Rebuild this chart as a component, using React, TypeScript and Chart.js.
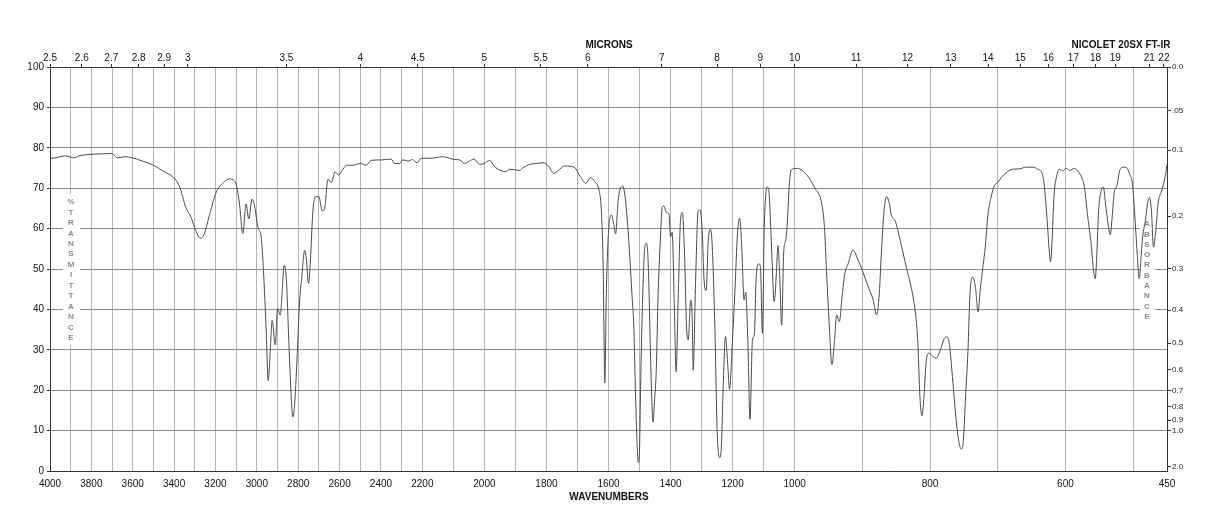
import React, { useEffect, useRef } from 'react';
import { Chart, LinearScale, registerables } from 'chart.js';

// ---------- data ----------
const WAVENUMBERS = [
  4000, 3975, 3925, 3900, 3885, 3860, 3800, 3745, 3705, 3690, 3675, 3640, 3600, 3553, 3500, 3455, 3402, 3375,
  3343, 3318, 3294, 3273, 3254, 3230, 3197, 3157, 3133, 3108, 3100, 3084, 3068, 3052, 3039, 3023, 3011, 2995,
  2979, 2968, 2955, 2945, 2935, 2926, 2911, 2900, 2887, 2877, 2869, 2858, 2845, 2834, 2826, 2818, 2806, 2793,
  2782, 2769, 2761, 2750, 2742, 2729, 2716, 2700, 2684, 2673, 2656, 2640, 2622, 2605, 2584, 2565, 2535, 2500,
  2471, 2447, 2398, 2350, 2334, 2310, 2294, 2269, 2248, 2226, 2205, 2176, 2133, 2112, 2096, 2080, 2063, 2049,
  2033, 2015, 2001, 1983, 1969, 1956, 1932, 1918, 1886, 1875, 1854, 1832, 1811, 1794, 1776, 1757, 1741, 1709,
  1692, 1673, 1658, 1644, 1630, 1623, 1617, 1612, 1607, 1601, 1591, 1583, 1577, 1569, 1555, 1545, 1534, 1524,
  1518, 1513, 1508, 1504, 1500, 1496, 1491, 1487, 1483, 1478, 1474, 1470, 1465, 1460, 1456, 1452, 1446, 1440,
  1432, 1427, 1422, 1413, 1405, 1400, 1395, 1388, 1382, 1375, 1368, 1362, 1355, 1348, 1343, 1335, 1330, 1327,
  1319, 1311, 1305, 1298, 1292, 1285, 1279, 1272, 1266, 1257, 1250, 1242, 1237, 1230, 1223, 1216, 1210, 1201,
  1192, 1185, 1177, 1171, 1163, 1158, 1151, 1144, 1136, 1130, 1124, 1115, 1110, 1104, 1098, 1088, 1083, 1075,
  1066, 1059, 1054, 1048, 1042, 1035, 1029, 1024, 1016, 1008, 996, 989, 979, 969, 961, 956, 953, 949,
  945, 941, 938, 934, 930, 926, 921, 914, 906, 899, 892, 884, 879, 875, 872, 868, 864, 860,
  857, 852, 844, 835, 826, 821, 818, 815, 812, 809, 806, 802, 796, 791, 785, 779, 775, 771,
  767, 762, 758, 754, 751, 748, 744, 741, 737, 733, 729, 726, 722, 718, 715, 710, 705, 700,
  695, 688, 678, 668, 658, 648, 641, 634, 631, 627, 624, 622, 620, 617, 613, 609, 604, 599,
  594, 587, 582, 577, 572, 567, 562, 559, 556, 554, 551, 547, 544, 541, 537, 534, 531, 528,
  524, 520, 515, 510, 505, 501, 498, 494, 491, 488, 486, 482, 478, 476, 473, 470, 467, 463,
  458, 453, 450,
];

const TRANSMITTANCE = [
  77.4, 77.5, 78.0, 77.7, 77.5, 78.0, 78.4, 78.5, 78.6, 78.2, 77.5, 77.8, 77.5, 76.7, 75.7, 74.3, 72.6, 70.6,
  65.2, 62.8, 59.3, 57.6, 58.7, 63.2, 68.9, 71.6, 72.3, 71.8, 71.0, 66.1, 58.8, 66.1, 62.4, 67.3, 65.6, 60.3,
  57.9, 49.6, 34.9, 22.4, 30.0, 37.3, 31.2, 40.2, 38.6, 44.7, 50.9, 48.0, 31.6, 18.5, 13.4, 16.0, 27.5, 42.3,
  48.4, 54.6, 52.6, 46.4, 51.3, 64.4, 67.9, 67.9, 64.4, 64.8, 72.2, 71.4, 74.0, 73.3, 74.7, 75.7, 75.7, 76.1,
  75.7, 76.9, 77.0, 77.2, 76.1, 76.1, 77.0, 76.7, 77.1, 76.3, 77.4, 77.4, 77.8, 77.4, 77.1, 77.0, 76.1, 76.7,
  77.2, 75.9, 76.1, 76.9, 75.5, 74.7, 74.1, 74.7, 74.4, 75.1, 75.9, 76.1, 76.3, 75.5, 73.7, 74.7, 75.5, 75.1,
  73.0, 71.2, 72.6, 71.6, 69.3, 64.4, 49.6, 21.8, 43.9, 57.9, 63.4, 61.1, 58.7, 66.9, 70.6, 66.9, 56.2, 43.1,
  34.9, 19.3, 7.0, 2.1, 5.4, 23.4, 39.8, 49.6, 55.4, 56.4, 54.6, 46.4, 30.0, 16.9, 12.1, 16.9, 25.1, 43.9,
  58.7, 65.2, 65.6, 64.0, 63.6, 57.9, 59.1, 41.4, 24.6, 43.9, 62.0, 64.0, 53.7, 34.9, 32.5, 42.3, 37.3, 25.0,
  48.0, 64.4, 64.6, 59.5, 47.2, 44.7, 56.2, 59.9, 56.2, 34.9, 10.3, 3.3, 4.9, 21.8, 33.3, 26.7, 20.2, 31.6,
  45.5, 57.9, 62.6, 56.2, 42.3, 44.3, 32.5, 12.8, 32.5, 33.7, 48.0, 51.3, 50.1, 34.1, 60.3, 70.3, 69.3, 56.2,
  41.9, 48.8, 55.8, 48.0, 36.1, 54.6, 57.0, 61.1, 72.2, 74.7, 74.9, 74.4, 72.6, 69.7, 66.9, 60.3, 49.6, 36.5,
  26.3, 32.5, 38.6, 37.0, 43.1, 48.8, 51.3, 54.7, 52.1, 49.2, 45.9, 42.3, 38.6, 43.9, 53.7, 64.4, 67.9, 66.1,
  63.2, 62.1, 57.0, 50.4, 43.9, 38.2, 31.6, 18.5, 13.7, 18.5, 26.7, 29.2, 28.4, 27.9, 29.9, 32.8, 33.2, 30.8,
  23.4, 13.6, 7.8, 5.4, 7.1, 16.9, 29.9, 43.9, 48.0, 45.5, 39.4, 44.7, 50.4, 56.2, 62.8, 67.7, 70.6, 71.4,
  72.6, 73.8, 74.7, 74.8, 75.2, 75.2, 74.7, 73.4, 70.2, 62.0, 54.6, 51.8, 56.2, 67.7, 73.0, 74.7, 74.3, 74.9,
  74.4, 74.9, 74.3, 73.0, 70.2, 62.8, 56.2, 50.4, 47.6, 52.4, 64.4, 69.5, 70.3, 66.4, 61.1, 58.5, 62.8, 68.9,
  70.6, 74.3, 75.2, 75.1, 73.4, 71.0, 64.4, 53.7, 47.6, 53.7, 57.9, 62.0, 66.9, 67.7, 64.4, 55.4, 58.7, 66.4,
  69.3, 72.6, 75.8,
];

// x-axis: three linear sections of equal width
const SCALE_BREAKS = [4000, 2200, 1000, 450];
const WAVE_GRID_TICKS = [
  4000, 3900, 3800, 3700, 3600, 3500, 3400, 3300, 3200, 3100, 3000, 2900, 2800, 2700, 2600, 2500, 2400, 2300,
  2200, 2100, 2000, 1900, 1800, 1700, 1600, 1500, 1400, 1300, 1200, 1100, 1000, 900, 800, 700, 600, 500, 450,
];
const WAVE_LABELS = [
  4000, 3800, 3600, 3400, 3200, 3000, 2800, 2600, 2400, 2200, 2000, 1800, 1600, 1400, 1200, 1000, 800, 600, 450,
];
const MICRON_LABELS = [
  '2.5', '2.6', '2.7', '2.8', '2.9', '3', '3.5', '4', '4.5', '5', '5.5', '6', '7', '8', '9', '10', '11', '12',
  '13', '14', '15', '16', '17', '18', '19', '21', '22',
];
const TRANSMITTANCE_TICKS = [0, 10, 20, 30, 40, 50, 60, 70, 80, 90, 100];
const ABSORBANCE_VALUES = [0, 0.05, 0.1, 0.2, 0.3, 0.4, 0.5, 0.6, 0.7, 0.8, 0.9, 1.0, 2.0];
const ABSORBANCE_LABELS = ['0.0', '.05', '0.1', '0.2', '0.3', '0.4', '0.5', '0.6', '0.7', '0.8', '0.9', '1.0', '2.0'];

const FONT = '"Liberation Sans", Arial, Helvetica, sans-serif';

function waveFrac(v: number): number {
  const [a, b, c, d] = SCALE_BREAKS;
  if (v >= b) return ((a - v) / (a - b)) / 3;
  if (v >= c) return 1 / 3 + ((b - v) / (b - c)) / 3;
  return 2 / 3 + ((c - v) / (c - d)) / 3;
}
function fracWave(f: number): number {
  const [a, b, c, d] = SCALE_BREAKS;
  if (f <= 1 / 3) return a - f * 3 * (a - b);
  if (f <= 2 / 3) return b - (f - 1 / 3) * 3 * (b - c);
  return c - (f - 2 / 3) * 3 * (c - d);
}

class WaveScale extends LinearScale {
  static id = 'wave';
  static defaults = {};
  getPixelForValue(value: number) {
    return this.left + waveFrac(value) * this.width;
  }
  getValueForPixel(pixel: number) {
    return fracWave((pixel - this.left) / this.width);
  }
}

Chart.register(...registerables, WaveScale as any);

const overlayPlugin = {
  id: 'irOverlay',
  beforeDatasetsDraw(chart: any) {
    const ctx = chart.ctx;
    ctx.save();
    ctx.fillStyle = '#ffffff';
    ctx.fillRect(63, 194, 17, 151);
    ctx.fillRect(1140, 216, 15, 107);
    ctx.fillStyle = '#8a8a8a';
    ctx.font = `bold 8px ${FONT}`;
    ctx.textAlign = 'center';
    ctx.textBaseline = 'middle';
    const left = '%TRANSMITTANCE';
    for (let i = 0; i < left.length; i++) ctx.fillText(left[i], 71, 202 + i * 10.45);
    const right = 'ABSORBANCE';
    for (let i = 0; i < right.length; i++) ctx.fillText(right[i], 1147, 224 + i * 10.3);
    ctx.restore();
  },
  afterDraw(chart: any) {
    const ctx = chart.ctx;
    ctx.save();
    ctx.fillStyle = '#111';
    ctx.font = `bold 10px ${FONT}`;
    ctx.textAlign = 'center';
    ctx.textBaseline = 'middle';
    ctx.fillText('MICRONS', 609, 45);
    ctx.fillText('NICOLET 20SX FT-IR', 1121, 45);
    ctx.fillText('WAVENUMBERS', 609, 497);
    ctx.restore();
  },
};

export default function App() {
  const ref = useRef<HTMLCanvasElement | null>(null);

  useEffect(() => {
    if (!ref.current) return;
    const points = WAVENUMBERS.map((w, i) => ({ x: w, y: TRANSMITTANCE[i] }));
    const chart = new Chart(ref.current, {
      type: 'line',
      data: {
        datasets: [
          {
            data: points,
            borderColor: '#4a4a4a',
            borderWidth: 1,
            pointRadius: 0,
            fill: false,
            cubicInterpolationMode: 'monotone',
            xAxisID: 'x',
            yAxisID: 'y',
          },
        ],
      },
      options: {
        animation: false,
        responsive: false,
        devicePixelRatio: 1,
        layout: { padding: 0 },
        plugins: { legend: { display: false }, tooltip: { enabled: false } },
        scales: {
          x: {
            type: 'wave' as any,
            position: 'bottom',
            min: 450,
            max: 4000,
            afterBuildTicks: (s: any) => {
              s.ticks = WAVE_GRID_TICKS.map((v) => ({ value: v }));
            },
            afterFit: (s: any) => {
              s.height = 57;
            },
            ticks: {
              autoSkip: false,
              maxRotation: 0,
              padding: 7,
              color: '#111',
              font: { family: FONT, size: 10 },
              callback: (v: any) => (WAVE_LABELS.includes(Number(v)) ? String(v) : ''),
            },
            grid: { color: '#b4b4b4', lineWidth: 1, drawTicks: false },
            border: { display: true, color: '#333', width: 1 },
          },
          xTop: {
            type: 'wave' as any,
            position: 'top',
            min: 450,
            max: 4000,
            afterBuildTicks: (s: any) => {
              s.ticks = MICRON_LABELS.map((m) => ({ value: 10000 / parseFloat(m) }));
            },
            afterFit: (s: any) => {
              s.height = 67;
            },
            ticks: {
              autoSkip: false,
              maxRotation: 0,
              padding: 0,
              color: '#111',
              font: { family: FONT, size: 10 },
              callback: (_v: any, i: number) => MICRON_LABELS[i],
            },
            grid: { drawOnChartArea: false, drawTicks: true, tickLength: 3, tickColor: '#333' },
            border: { display: true, color: '#333', width: 1 },
          },
          y: {
            type: 'linear',
            position: 'left',
            min: 0,
            max: 100,
            afterBuildTicks: (s: any) => {
              s.ticks = TRANSMITTANCE_TICKS.map((v) => ({ value: v }));
            },
            afterFit: (s: any) => {
              s.width = 50;
            },
            ticks: {
              padding: 3,
              color: '#111',
              font: { family: FONT, size: 10 },
              callback: (v: any) => String(v),
            },
            grid: { color: '#8c8c8c', lineWidth: 1, drawTicks: true, tickLength: 3, tickColor: '#333' },
            border: { display: true, color: '#333', width: 1 },
          },
          yAbs: {
            type: 'linear',
            position: 'right',
            min: 0,
            max: 100,
            afterBuildTicks: (s: any) => {
              s.ticks = ABSORBANCE_VALUES.map((a) => ({ value: 100 * Math.pow(10, -a) }));
            },
            afterFit: (s: any) => {
              s.width = 51;
            },
            ticks: {
              padding: 1,
              color: '#222',
              font: { family: FONT, size: 8 },
              callback: (_v: any, i: number) => ABSORBANCE_LABELS[i],
            },
            grid: { drawOnChartArea: false, drawTicks: true, tickLength: 4, tickColor: '#333' },
            border: { display: true, color: '#333', width: 1 },
          },
        },
      },
      plugins: [overlayPlugin],
    } as any);
    return () => chart.destroy();
  }, []);

  return (
    <div style={{ position: 'fixed', left: 0, top: 0, width: 1218, height: 528, background: '#fff' }}>
      <canvas ref={ref} width={1218} height={528} style={{ display: 'block' }} />
    </div>
  );
}
